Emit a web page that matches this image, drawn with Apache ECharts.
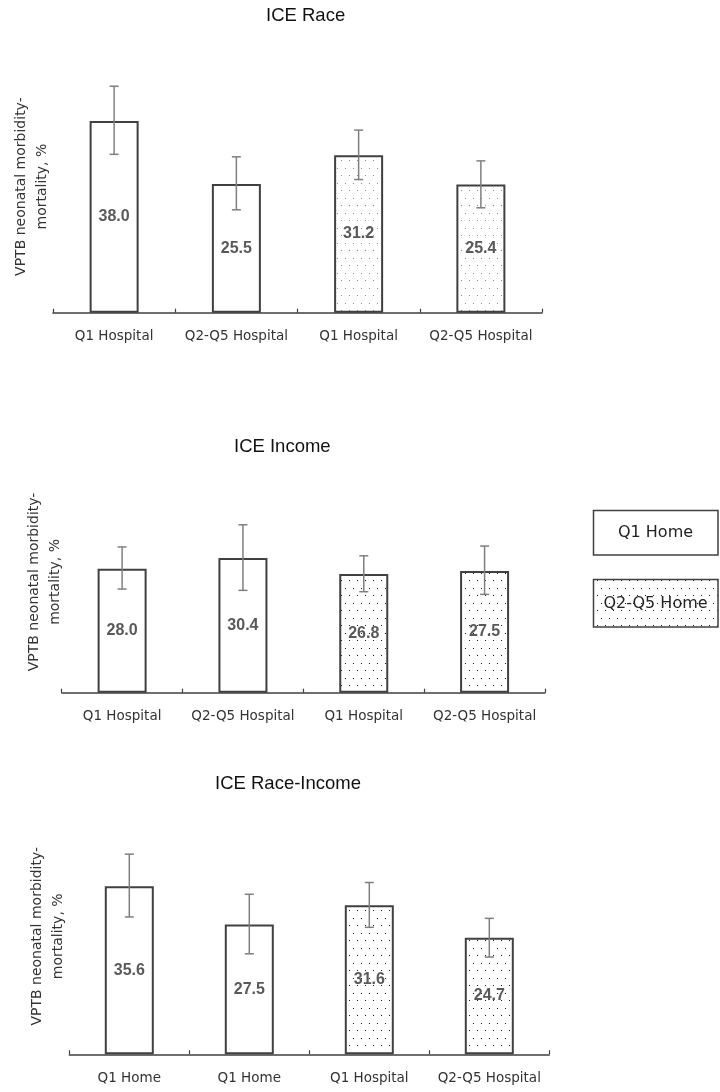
<!DOCTYPE html>
<html>
<head>
<meta charset="utf-8">
<script src="https://cdn.jsdelivr.net/npm/echarts@6/dist/echarts.min.js"></script>
<style>
  html, body { margin: 0; padding: 0; background: #fff; }
  #main { width: 720px; height: 1092px; }
</style>
</head>
<body>
<div id="main"></div>
<script>
// chart titles
const chartTitles = ['ICE Race', 'ICE Income', 'ICE Race-Income'];
const yName = 'VPTB neonatal morbidity-\nmortality, %';
const legendNames = ['Q1 Home', 'Q2-Q5 Home'];

// ICE Race
const raceCats = ['Q1 Hospital', 'Q2-Q5 Hospital', 'Q1 Hospital', 'Q2-Q5 Hospital'];
const raceGroups = ['Q1 Home', 'Q1 Home', 'Q2-Q5 Home', 'Q2-Q5 Home'];
const raceValues = [38.0, 25.5, 31.2, 25.4];
const raceLower = [31.4, 20.4, 26.4, 20.8];
const raceUpper = [44.9, 30.9, 36.2, 30.1];

// ICE Income
const incomeCats = ['Q1 Hospital', 'Q2-Q5 Hospital', 'Q1 Hospital', 'Q2-Q5 Hospital'];
const incomeGroups = ['Q1 Home', 'Q1 Home', 'Q2-Q5 Home', 'Q2-Q5 Home'];
const incomeValues = [28.0, 30.4, 26.8, 27.5];
const incomeLower = [23.4, 23.1, 22.8, 22.2];
const incomeUpper = [32.9, 37.9, 30.9, 33.1];

// ICE Race-Income
const raceIncomeCats = ['Q1 Home', 'Q1 Home', 'Q1 Hospital', 'Q2-Q5 Hospital'];
const raceIncomeGroups = ['Q1 Home', 'Q1 Home', 'Q2-Q5 Home', 'Q2-Q5 Home'];
const raceIncomeValues = [35.6, 27.5, 31.6, 24.7];
const raceIncomeLower = [29.1, 21.3, 26.9, 20.6];
const raceIncomeUpper = [42.4, 33.9, 36.4, 28.8];

const chart = echarts.init(document.getElementById('main'));

// small staggered dot fill, like the office "dotted" pattern
function dotPattern(color) {
  const c = document.createElement('canvas');
  c.width = 8;
  c.height = 15;
  const ctx = c.getContext('2d');
  ctx.fillStyle = '#fff';
  ctx.fillRect(0, 0, 8, 15);
  ctx.fillStyle = color;
  ctx.fillRect(1, 3, 1, 1);
  ctx.fillRect(5, 10, 1, 1);
  return c;
}

const lightDots = dotPattern('#8c8c8c');
const darkDots = dotPattern('#1a1a1a');

function panel(i, cats, groups, values, lower, upper, dots, nameGap) {
  const bars = values.map((v, k) => ({
    value: v,
    itemStyle: {
      color: groups[k] === 'Q1 Home' ? '#fff' : { image: dots, repeat: 'repeat' }
    }
  }));
  return {
    xAxis: {
      type: 'category',
      gridIndex: i,
      data: cats,
      axisLine: { lineStyle: { color: '#404040', width: 1.5 } },
      axisTick: { show: true, interval: 0, inside: true, length: 4, lineStyle: { color: '#404040', width: 1.2 } },
      axisLabel: { interval: 0, margin: 17, color: '#333', fontSize: 13.5, fontFamily: 'DejaVu Sans' }
    },
    yAxis: {
      type: 'value',
      gridIndex: i,
      min: 0,
      max: 50,
      axisLine: { show: false },
      axisTick: { show: false },
      axisLabel: { show: false },
      splitLine: { show: false },
      name: yName,
      nameLocation: 'middle',
      nameGap: nameGap,
      nameTextStyle: { color: '#333', fontSize: 14, lineHeight: 21, fontFamily: 'DejaVu Sans' }
    },
    series: [
      {
        type: 'bar',
        xAxisIndex: i,
        yAxisIndex: i,
        barWidth: 49,
        data: bars,
        itemStyle: { borderColor: '#404040', borderWidth: 2 },
        label: {
          show: true,
          position: 'inside',
          formatter: p => p.value.toFixed(1),
          color: '#595959',
          fontWeight: 'bold',
          fontSize: 16,
          fontFamily: 'Liberation Sans'
        }
      },
      {
        type: 'custom',
        xAxisIndex: i,
        yAxisIndex: i,
        z: 5,
        data: values.map((v, k) => [k, lower[k], upper[k]]),
        renderItem: function (params, api) {
          const hi = api.coord([api.value(0), api.value(2)]);
          const lo = api.coord([api.value(0), api.value(1)]);
          const cap = 4.5;
          const style = { stroke: '#7f7f7f', lineWidth: 1.5 };
          return {
            type: 'group',
            children: [
              { type: 'line', shape: { x1: hi[0], y1: hi[1], x2: lo[0], y2: lo[1] }, style },
              { type: 'line', shape: { x1: hi[0] - cap, y1: hi[1], x2: hi[0] + cap, y2: hi[1] }, style },
              { type: 'line', shape: { x1: lo[0] - cap, y1: lo[1], x2: lo[0] + cap, y2: lo[1] }, style }
            ]
          };
        }
      }
    ]
  };
}

const panels = [
  panel(0, raceCats, raceGroups, raceValues, raceLower, raceUpper, lightDots, 0),
  panel(1, incomeCats, incomeGroups, incomeValues, incomeLower, incomeUpper, darkDots, -4),
  panel(2, raceIncomeCats, raceIncomeGroups, raceIncomeValues, raceIncomeLower, raceIncomeUpper, darkDots, 0)
];

const titleStyle = { color: '#111', fontSize: 18.5, fontWeight: 'normal', fontFamily: 'Liberation Sans' };

chart.setOption({
  animation: false,
  backgroundColor: '#fff',
  title: [
    { text: chartTitles[0], left: 266, top: 6, padding: 0, textStyle: titleStyle },
    { text: chartTitles[1], left: 234, top: 437, padding: 0, textStyle: titleStyle },
    { text: chartTitles[2], left: 215, top: 774, padding: 0, textStyle: titleStyle }
  ],
  grid: [
    { left: 53, width: 489, top: 60.5, height: 252.2 },
    { left: 61.7, width: 483.3, top: 471.2, height: 221.5 },
    { left: 69.3, width: 480, top: 818.3, height: 236 }
  ],
  xAxis: panels.map(p => p.xAxis),
  yAxis: panels.map(p => p.yAxis),
  series: panels.flatMap(p => p.series),
  graphic: [
    {
      type: 'rect',
      shape: { x: 593.5, y: 510.5, width: 124.5, height: 44.5 },
      style: { fill: '#fff', stroke: '#404040', lineWidth: 1.5 }
    },
    {
      type: 'text',
      x: 655.5, y: 533,
      style: { text: legendNames[0], fill: '#222', fontSize: 16, fontFamily: 'DejaVu Sans', align: 'center', verticalAlign: 'middle' }
    },
    {
      type: 'rect',
      shape: { x: 593.5, y: 579.5, width: 124.5, height: 47.5 },
      style: { fill: { image: darkDots, repeat: 'repeat' }, stroke: '#404040', lineWidth: 1.5 }
    },
    {
      type: 'text',
      x: 655.5, y: 604,
      style: { text: legendNames[1], fill: '#222', fontSize: 16, fontFamily: 'DejaVu Sans', align: 'center', verticalAlign: 'middle' }
    }
  ]
});

window.addEventListener('resize', function () {
  chart.resize();
});
</script>
</body>
</html>
